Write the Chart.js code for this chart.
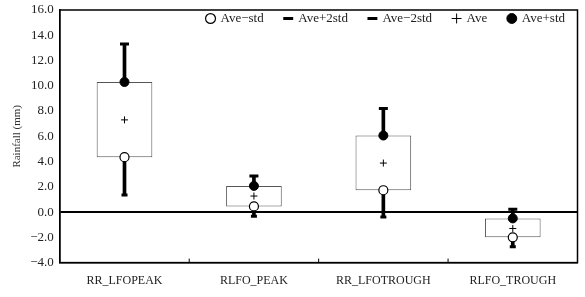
<!DOCTYPE html>
<html>
<head>
<meta charset="utf-8">
<script src="https://cdn.jsdelivr.net/npm/chart.js@4/dist/chart.umd.min.js"></script>
<style>
  html, body { margin: 0; padding: 0; background: #fff; }
  #wrap { width: 585px; height: 297px; }
</style>
</head>
<body>
<div id="wrap"><canvas id="rainChart"></canvas></div>
<script>
// Categories and statistics
const categories = ['RR_LFOPEAK', 'RLFO_PEAK', 'RR_LFOTROUGH', 'RLFO_TROUGH'];
const aveMinus2Std = [1.35, -0.33, -0.38, -2.75];
const aveMinusStd = [4.35, 0.45, 1.73, -2.0];
const ave = [7.3, 1.27, 3.88, -1.3];
const avePlusStd = [10.3, 2.07, 6.06, -0.5];
const avePlus2Std = [13.3, 2.85, 8.2, 0.22];
const yTicks = [-4, -2, 0, 2, 4, 6, 8, 10, 12, 14, 16];

const boxRanges = categories.map((c, i) => [aveMinusStd[i], avePlusStd[i]]);
const upperStems = categories.map((c, i) => [avePlusStd[i], avePlus2Std[i]]);
const lowerStems = categories.map((c, i) => [aveMinus2Std[i], aveMinusStd[i]]);

Chart.defaults.font.family = "'Liberation Serif', 'DejaVu Serif', serif";
Chart.defaults.color = '#222';
Chart.defaults.animation = false;

// legend sits inside the plot: no layout space, not clipped, pulled up under the top border
const legendInside = {
    id: 'legendInside',
    beforeInit(chart) {
        const legend = chart.legend;
        const fit = legend.fit;
        legend.fit = function () {
            fit.call(this);
            this.height = 0;
        };
        legend.draw = function () {
            if (!this.options.display) return;
            const hb = this.legendHitBoxes[0];
            const shift = hb ? (chart.chartArea.top + 2) - hb.top : 0;
            this.ctx.save();
            this.ctx.translate(8, shift);
            this._draw();
            this.ctx.restore();
        };
    }
};

// frame around the plot plus the small inward ticks between categories
const framePlugin = {
    id: 'frame',
    afterDraw(chart) {
        const { ctx, chartArea: a, scales } = chart;
        ctx.save();
        ctx.strokeStyle = '#000';
        ctx.lineWidth = 1.5;
        ctx.strokeRect(a.left, a.top, a.right - a.left, a.bottom - a.top);
        ctx.lineWidth = 1;
        for (let i = 1; i < categories.length; i++) {
            const x = (scales.x.getPixelForValue(i - 1) + scales.x.getPixelForValue(i)) / 2;
            ctx.beginPath();
            ctx.moveTo(x, a.bottom);
            ctx.lineTo(x, a.bottom - 4);
            ctx.stroke();
        }
        ctx.restore();
    }
};

const markerBase = { type: 'line', showLine: false, order: 0, borderColor: '#000' };

new Chart(document.getElementById('rainChart'), {
    type: 'bar',
    data: {
        labels: categories,
        datasets: [
            { ...markerBase, label: 'Ave\u2212std', data: aveMinusStd, pointStyle: 'circle',
              pointRadius: 4.5, backgroundColor: '#fff', borderWidth: 1.2 },
            { ...markerBase, label: 'Ave+2std', data: avePlus2Std, pointStyle: 'line',
              pointRadius: 4.5, backgroundColor: '#000', borderWidth: 3 },
            { ...markerBase, label: 'Ave\u22122std', data: aveMinus2Std, pointStyle: 'line',
              pointRadius: 3, backgroundColor: '#000', borderWidth: 3 },
            { ...markerBase, label: 'Ave', data: ave, pointStyle: 'cross',
              pointRadius: 3.5, backgroundColor: '#000', borderWidth: 1 },
            { ...markerBase, label: 'Ave+std', data: avePlusStd, pointStyle: 'circle',
              pointRadius: 4.5, backgroundColor: '#000', borderWidth: 1 },
            { label: 'box', data: boxRanges, backgroundColor: '#fff', borderColor: '#555',
              borderWidth: 1, borderSkipped: false, barPercentage: 0.43, categoryPercentage: 1,
              grouped: false, order: 3 },
            { label: 'up', data: upperStems, backgroundColor: '#000', barThickness: 3,
              grouped: false, order: 2 },
            { label: 'down', data: lowerStems, backgroundColor: '#000', barThickness: 3,
              grouped: false, order: 2 }
        ]
    },
    options: {
        responsive: true,
        maintainAspectRatio: false,
        layout: { padding: { top: 10, right: 7, left: 7, bottom: 6 } },
        plugins: {
            tooltip: { enabled: false },
            legend: {
                position: 'top',
                align: 'end',
                labels: {
                    usePointStyle: true,
                    boxWidth: 7,
                    boxHeight: 7,
                    padding: 21,
                    color: '#222',
                    font: { size: 13 },
                    filter: item => !['box', 'up', 'down'].includes(item.text)
                }
            }
        },
        scales: {
            x: {
                grid: { display: false },
                border: { color: '#000', width: 1.5 },
                ticks: { padding: 3, font: { size: 12 }, color: '#222' }
            },
            y: {
                min: -4,
                max: 16,
                afterBuildTicks: axis => { axis.ticks = yTicks.map(v => ({ value: v })); },
                afterFit: axis => { axis.paddingTop = 0; },
                border: { color: '#000', width: 1.5 },
                grid: {
                    drawTicks: false,
                    color: c => c.tick.value === 0 ? '#000' : 'rgba(0,0,0,0)',
                    lineWidth: c => c.tick.value === 0 ? 2 : 0
                },
                ticks: {
                    padding: 6,
                    font: { size: 13 },
                    color: '#222',
                    callback: v => (v < 0 ? '\u2212' : '') + Math.abs(v).toFixed(1)
                },
                title: { display: true, text: 'Rainfall (mm)', font: { size: 11 }, color: '#333', padding: { top: 4, bottom: 0 } }
            }
        }
    },
    plugins: [legendInside, framePlugin]
});
</script>
</body>
</html>
